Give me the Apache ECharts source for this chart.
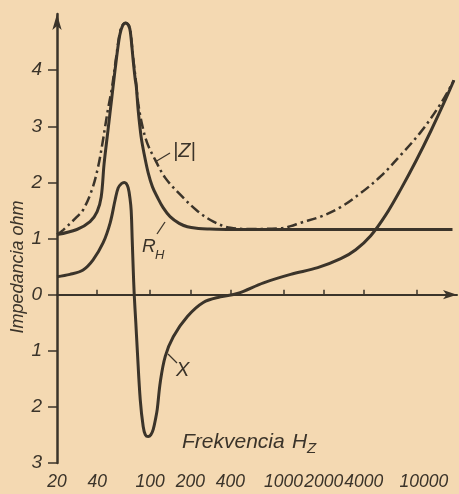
<!DOCTYPE html>
<html>
<head>
<meta charset="utf-8">
<script src="https://cdn.jsdelivr.net/npm/echarts@6/dist/echarts.min.js"></script>
<style>
html,body{margin:0;padding:0;background:#f4d9b2;}
#c{width:459px;height:494px;}
</style>
</head>
<body>
<div id="c"></div>
<script>
// ---- data ----
const xLabelValues = [20, 40, 100, 200, 400, 1000, 2000, 4000, 10000];
const xTickValues = [40, 100, 200, 400, 1000, 2000, 4000, 10000];
const yTickValues = [-3, -2, -1, 0, 1, 2, 3, 4];

// R_H (solid)
const rhFreq = [20, 28.2, 35.4, 40, 42.9, 45.1, 48.2, 51.6, 55.2, 59.1, 62, 65.5, 69, 71, 74.5, 77, 78.7, 81.2, 85.5, 90.2, 96.6, 104, 113, 125, 141, 165, 190, 230, 268, 400, 1000, 5000, 18500];
const rhVal  = [1.07, 1.16, 1.30, 1.48, 1.74, 2.33, 2.92, 3.52, 4.11, 4.62, 4.79, 4.84, 4.79, 4.68, 4.18, 3.86, 3.70, 3.29, 2.81, 2.50, 2.17, 1.92, 1.74, 1.55, 1.39, 1.27, 1.21, 1.18, 1.17, 1.16, 1.16, 1.16, 1.16];

// |Z| (dash-dot)
const zFreq = [20, 22.2, 28.3, 31.4, 36.6, 40.7, 44.3, 45.9, 48.2, 51.6, 55.2, 59.1, 62, 65.5, 69, 71, 74.5, 78, 81.3, 87.1, 95, 109.1, 129.7, 168.2, 226, 298, 400, 565, 950, 1130, 1343, 1899, 2686, 3797, 5367, 7587, 10720, 15160, 18960];
const zVal  = [1.07, 1.15, 1.39, 1.51, 1.87, 2.28, 2.76, 2.99, 3.30, 3.68, 4.18, 4.66, 4.80, 4.84, 4.80, 4.70, 4.22, 3.82, 3.41, 3.02, 2.70, 2.40, 2.08, 1.78, 1.49, 1.30, 1.19, 1.17, 1.18, 1.22, 1.28, 1.39, 1.56, 1.81, 2.11, 2.49, 2.90, 3.41, 3.82];

// X (solid)
const xFreq = [20, 25, 31.4, 37.3, 44.3, 50.1, 54.6, 57.5, 61, 63.8, 66, 68.4, 70.5, 72, 73.3, 74.6, 75.9, 78, 80, 84.2, 88.6, 92, 96.6, 101, 105.4, 110, 113, 119, 129.7, 149, 190, 250, 336, 451, 708, 1130, 1805, 2686, 3481, 4509, 5848, 7587, 9844, 12760, 16560, 18960];
const xVal  = [0.32, 0.36, 0.44, 0.62, 0.92, 1.28, 1.69, 1.90, 1.98, 2.0, 1.98, 1.9, 1.72, 1.5, 0.98, 0.45, 0.0, -0.5, -0.98, -1.87, -2.35, -2.5, -2.53, -2.5, -2.4, -2.2, -2.04, -1.56, -1.1, -0.75, -0.39, -0.14, -0.04, 0.02, 0.21, 0.36, 0.48, 0.64, 0.80, 1.05, 1.42, 1.88, 2.38, 2.92, 3.50, 3.82];

// zero reference line
const zeroFreq = [20, 18500];
const zeroVal = [0, 0];

// ---- build ----
const ink = '#3b342a';
const pair = (a, b) => a.map((v, i) => [v, b[i]]);

const chart = echarts.init(document.getElementById('c'), null, {renderer: 'canvas'});
chart.setOption({
  backgroundColor: '#f4d9b2',
  animation: false,
  grid: {left: 57, right: 2, top: 14, bottom: 31},
  xAxis: {
    type: 'log', logBase: 10, min: 20, max: 20000,
    axisLine: {show: true, lineStyle: {color: ink, width: 2}, symbol: ['none', 'arrow'], symbolSize: [7, 14]},
    axisTick: {show: true, inside: true, length: 5, lineStyle: {color: ink, width: 1.5}, customValues: xTickValues},
    axisLabel: {color: ink, fontFamily: 'Liberation Sans', fontStyle: 'italic', fontSize: 17.5, margin: 10, customValues: xLabelValues,
      hideOverlap: false,
      formatter: v => Math.round(v) === 10000 ? '{r|10000}' : String(Math.round(v)),
      rich: {r: {fontFamily: 'Liberation Sans', fontStyle: 'italic', fontSize: 17.5, color: ink, padding: [0, 0, 0, 14]}}},
    splitLine: {show: false}
  },
  yAxis: {
    type: 'value', min: -3, max: 5,
    axisLine: {show: true, lineStyle: {color: ink, width: 2.5}, symbol: ['none', 'arrow'], symbolSize: [7, 16]},
    axisTick: {show: true, inside: false, length: 9, lineStyle: {color: ink, width: 1.5}, customValues: yTickValues},
    axisLabel: {color: ink, fontFamily: 'Liberation Sans', fontStyle: 'italic', fontSize: 19, margin: 15, customValues: yTickValues,
      formatter: v => String(Math.abs(v))},
    splitLine: {show: false}
  },
  series: [
    {type: 'line', name: 'zero', data: pair(zeroFreq, zeroVal), showSymbol: false, lineStyle: {color: ink, width: 1.5}, z: 1},
    {type: 'line', name: 'RH', data: pair(rhFreq, rhVal), showSymbol: false, smooth: 0.35, lineStyle: {color: ink, width: 3}},
    {type: 'line', name: 'Z', data: pair(zFreq, zVal), showSymbol: false, smooth: 0.35, lineStyle: {color: ink, width: 2.5, type: [10, 4, 2.5, 4]}},
    {type: 'line', name: 'X', data: pair(xFreq, xVal), showSymbol: false, smooth: 0.35, lineStyle: {color: ink, width: 3}}
  ],
  graphic: [
    {type: 'text', x: 18, y: 267, rotation: Math.PI / 2,
      style: {text: 'Impedancia ohm', fill: ink, font: 'italic 18px "Liberation Sans"', align: 'center', verticalAlign: 'middle'}},
    {type: 'text', x: 182, y: 442,
      style: {text: 'Frekvencia', fill: ink, font: 'italic 21px "Liberation Sans"', align: 'left', verticalAlign: 'middle'}},
    {type: 'text', x: 292, y: 442,
      style: {text: 'H', fill: ink, font: 'italic 21px "Liberation Sans"', align: 'left', verticalAlign: 'middle'}},
    {type: 'text', x: 307, y: 449,
      style: {text: 'Z', fill: ink, font: 'italic 15px "Liberation Sans"', align: 'left', verticalAlign: 'middle'}},
    {type: 'text', x: 173, y: 151,
      style: {text: '|Z|', fill: ink, font: 'italic 20px "Liberation Sans"', align: 'left', verticalAlign: 'middle'}},
    {type: 'line', shape: {x1: 155, y1: 162, x2: 170, y2: 153}, style: {stroke: ink, lineWidth: 1.3}},
    {type: 'text', x: 142, y: 247,
      style: {text: 'R', fill: ink, font: 'italic 19px "Liberation Sans"', align: 'left', verticalAlign: 'middle'}},
    {type: 'text', x: 155, y: 255,
      style: {text: 'H', fill: ink, font: 'italic 13px "Liberation Sans"', align: 'left', verticalAlign: 'middle'}},
    {type: 'line', shape: {x1: 157, y1: 234, x2: 165, y2: 222}, style: {stroke: ink, lineWidth: 1.3}},
    {type: 'text', x: 176, y: 370,
      style: {text: 'X', fill: ink, font: 'italic 20px "Liberation Sans"', align: 'left', verticalAlign: 'middle'}},
    {type: 'line', shape: {x1: 168, y1: 354, x2: 177, y2: 363}, style: {stroke: ink, lineWidth: 1.3}}
  ]
});
</script>
</body>
</html>
